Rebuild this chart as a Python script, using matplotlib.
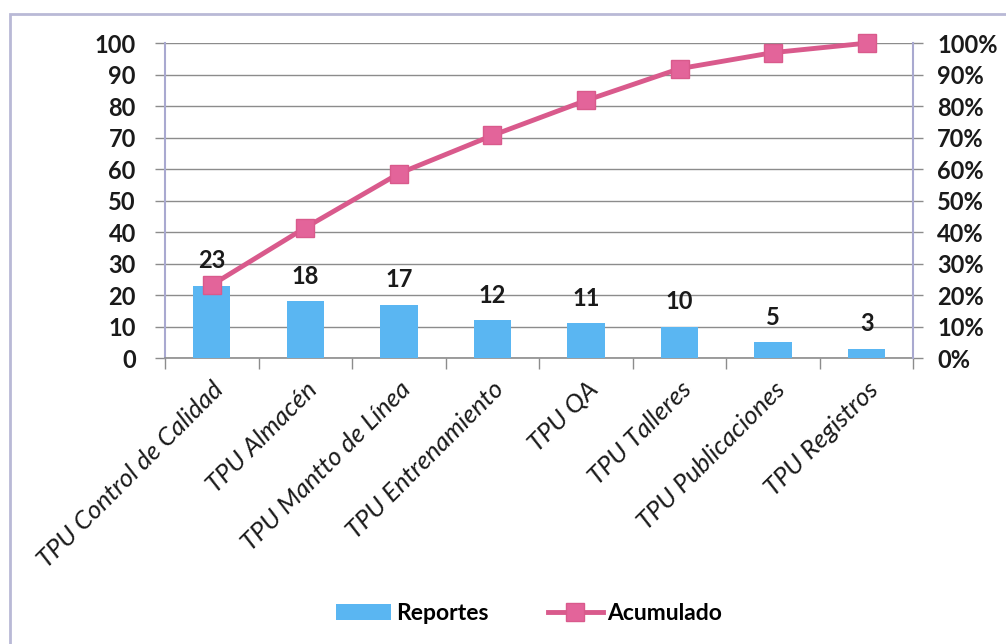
import matplotlib
matplotlib.use("Agg")
import matplotlib.pyplot as plt
from matplotlib.patches import Rectangle, Patch
from matplotlib.lines import Line2D
from matplotlib.ticker import FixedLocator, FuncFormatter

plt.rcParams['font.family'] = ['Lato', 'DejaVu Sans']

categories = ["TPU Control de Calidad", "TPU Almacén", "TPU Mantto de Línea",
              "TPU Entrenamiento", "TPU QA", "TPU Talleres",
              "TPU Publicaciones", "TPU Registros"]
reportes = [23, 18, 17, 12, 11, 10, 5, 3]
acumulado_pct = [23.2, 41.4, 58.6, 70.7, 81.8, 91.9, 97.0, 100.0]
left_ticks = [0, 10, 20, 30, 40, 50, 60, 70, 80, 90, 100]
right_ticks = [0, 10, 20, 30, 40, 50, 60, 70, 80, 90, 100]

bar_color = "#5AB6F2"
line_color = "#D95A8C"
marker_color = "#E3649A"
axis_color = "#A9A9D0"
grid_color = "#8C8C8C"
text_color = "#1A1A1A"

fig = plt.figure(figsize=(10.06, 6.44), dpi=100)
fig.patch.set_facecolor("white")
fig.add_artist(Rectangle((0.010, -0.02), 1.02, 0.998, transform=fig.transFigure,
                         fill=False, edgecolor="#B9B9D6", linewidth=2.0))

ax = fig.add_axes([0.164, 0.444, 0.744, 0.489])
x = list(range(len(categories)))
ax.bar(x, reportes, width=0.4, color=bar_color, zorder=3)
ax.set_xlim(-0.5, len(categories) - 0.5)
ax.set_ylim(0, 100)
ax.yaxis.set_major_locator(FixedLocator(left_ticks))
ax.yaxis.grid(True, color=grid_color, linewidth=1.0, zorder=0)
ax.set_axisbelow(True)

for xi, v in zip(x, reportes):
    ax.annotate(str(v), (xi, v), xytext=(0, 18), textcoords="offset points",
                ha="center", va="center", fontsize=17, fontweight="bold",
                color=text_color, zorder=5)

ax.set_xticks(x)
ax.set_xticklabels(categories, rotation=45, ha="right", rotation_mode="anchor",
                   fontsize=18.5, fontstyle="italic", color=text_color)
ax.set_xticks([i - 0.5 for i in range(len(categories) + 1)], minor=True)
ax.tick_params(axis="x", which="major", length=0, pad=14)
ax.tick_params(axis="x", which="minor", length=8, width=1.0, color=grid_color,
               direction="out")
ax.tick_params(axis="y", length=7, width=1.0, color=grid_color, direction="out",
               labelsize=17, labelcolor=text_color, pad=14)
for lbl in ax.get_yticklabels():
    lbl.set_fontweight("bold")

ax.spines["top"].set_visible(False)
ax.spines["right"].set_visible(False)
ax.spines["left"].set_color(axis_color)
ax.spines["left"].set_linewidth(1.5)
ax.spines["bottom"].set_color(grid_color)
ax.spines["bottom"].set_linewidth(1.2)

ax2 = ax.twinx()
ax2.plot(x, acumulado_pct, color=line_color, linewidth=3.5, marker="s",
         markersize=13, markerfacecolor=marker_color, markeredgecolor=line_color,
         zorder=4, clip_on=False)
ax2.set_ylim(0, 100)
ax2.yaxis.set_major_locator(FixedLocator(right_ticks))
ax2.yaxis.set_major_formatter(FuncFormatter(lambda v, p: f"{int(v)}%"))
ax2.tick_params(axis="y", length=7, width=1.0, color=grid_color, direction="out",
                labelsize=17, labelcolor=text_color, pad=10)
for lbl in ax2.get_yticklabels():
    lbl.set_fontweight("bold")
for side in ("top", "left", "bottom"):
    ax2.spines[side].set_visible(False)
ax2.spines["right"].set_color(axis_color)
ax2.spines["right"].set_linewidth(1.5)

handles = [Patch(facecolor=bar_color, edgecolor="none"),
           Line2D([0], [0], color=line_color, linewidth=3.5, marker="s",
                  markersize=13, markerfacecolor=marker_color,
                  markeredgecolor=line_color)]
fig.legend(handles, ["Reportes", "Acumulado"], loc="center",
           bbox_to_anchor=(0.526, 0.048), ncol=2, frameon=False,
           prop={"size": 16.5, "weight": "bold"}, handlelength=2.4,
           handletextpad=0.2, columnspacing=2.6)

fig.savefig("out.png", dpi=100)
